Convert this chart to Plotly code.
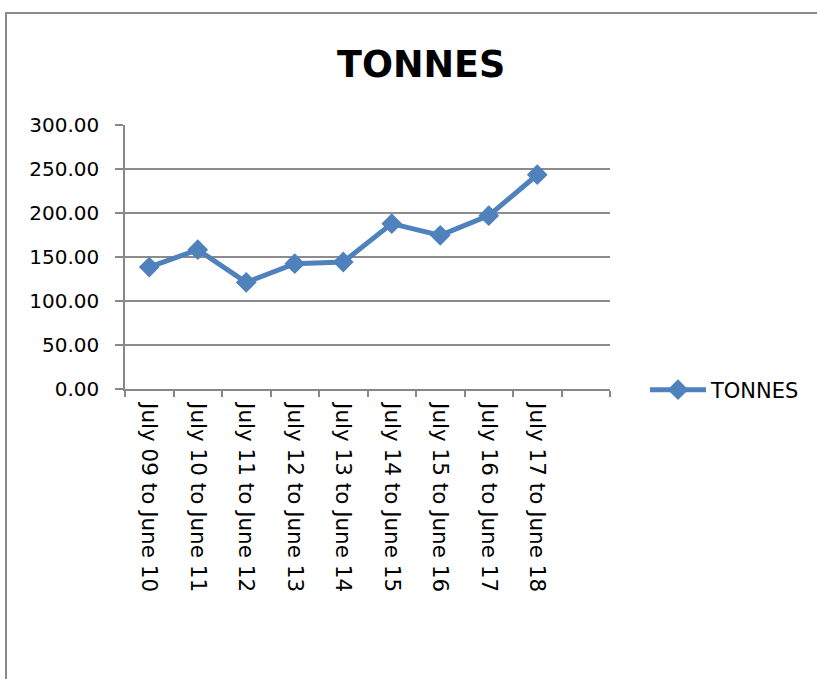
import plotly.graph_objects as go

categories = ["July 09 to June 10", "July 10 to June 11", "July 11 to June 12",
              "July 12 to June 13", "July 13 to June 14", "July 14 to June 15",
              "July 15 to June 16", "July 16 to June 17", "July 17 to June 18"]
tonnes = [138.5, 158.3, 121.1, 142.4, 144.3, 187.9, 174.6, 197.0, 243.5]
axis_slots = categories + [" "]

W, H = 817, 679
L, R, T, B = 125, 610, 125, 389
pw, ph = R - L, B - T

def px(x):
    return (x - L) / pw

def py(y):
    return (B - y) / ph

font_family = "'DejaVu Sans', sans-serif"

fig = go.Figure()
fig.add_trace(go.Scatter(
    x=categories, y=tonnes, mode="lines+markers", name="TONNES",
    line=dict(color="#4F81BD", width=5),
    marker=dict(symbol="diamond", size=16, color="#4F81BD"),
))

fig.update_layout(
    width=W, height=H,
    margin=dict(l=L, r=W - R, t=T, b=H - B),
    paper_bgcolor="white", plot_bgcolor="white",
    font=dict(family=font_family, size=21, color="black"),
    showlegend=True,
    legend=dict(x=px(645), y=py(390), xanchor="left", yanchor="middle",
                font=dict(size=21, family=font_family), bgcolor="rgba(0,0,0,0)",
                itemwidth=56),
    xaxis=dict(type="category", categoryorder="array", categoryarray=axis_slots,
               range=[-0.5, 9.5], tickson="boundaries", ticks="outside", ticklen=6,
               tickcolor="#888888", tickwidth=1.5, showline=True, linecolor="#888888",
               linewidth=1.5, showgrid=False, tickangle=90, fixedrange=True,
               ticklabelstandoff=8, tickfont=dict(size=21.5)),
    yaxis=dict(range=[0, 300], dtick=50, tickformat=".2f", ticks="outside", ticklen=8,
               tickcolor="#888888", tickwidth=1.5, showline=True, linecolor="#888888",
               linewidth=1.5, showgrid=True, gridcolor="#8c8c8c", gridwidth=1.5,
               zeroline=False, fixedrange=True, ticklabelstandoff=12,
               tickfont=dict(size=20)),
    annotations=[dict(text="<b>TONNES</b>", x=px(421), y=py(64), xref="paper", yref="paper",
                      showarrow=False, xanchor="center", yanchor="middle",
                      font=dict(size=36.5, family=font_family))],
    shapes=[dict(type="rect", xref="paper", yref="paper",
                 x0=px(6), x1=px(900), y0=py(800), y1=py(13),
                 line=dict(color="#8a8a8a", width=2))],
)
fig.write_html("out.html")
